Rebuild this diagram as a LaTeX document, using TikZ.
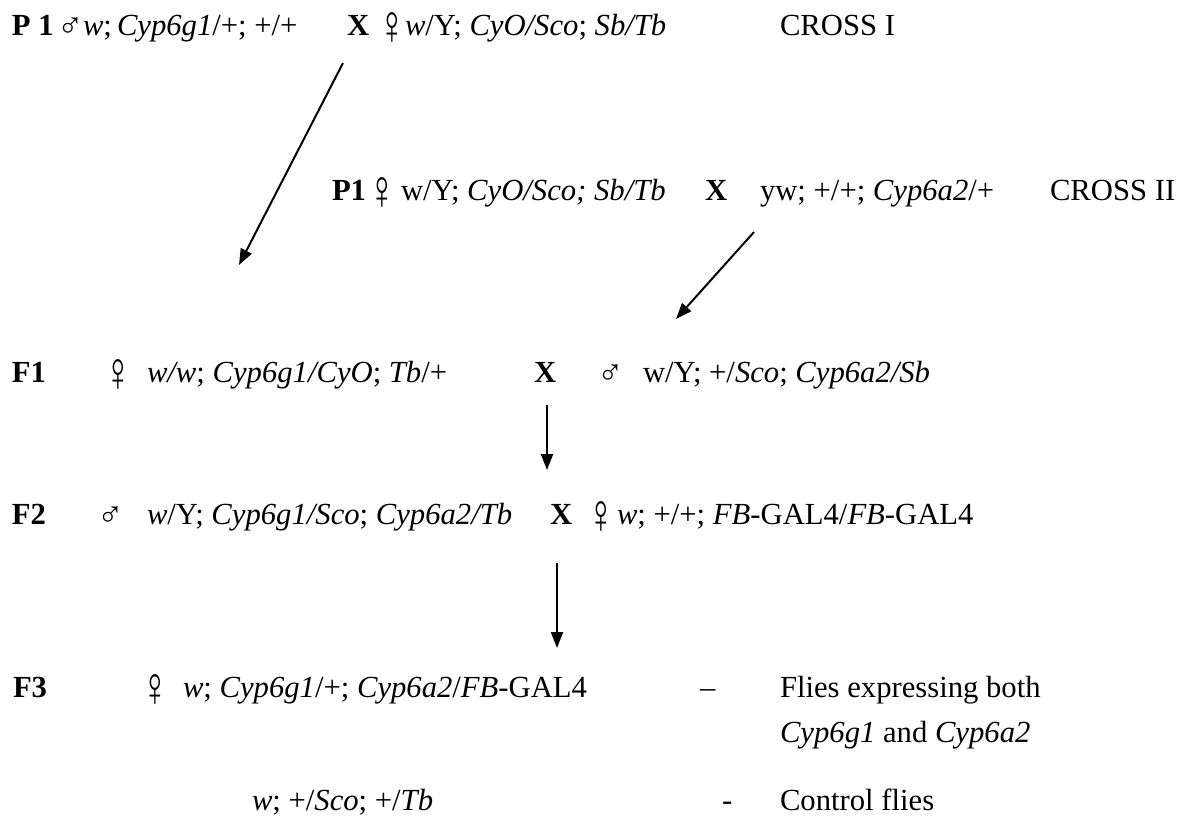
\documentclass[tikz,border=0pt]{standalone}
\usepackage{fontspec}
\setmainfont{Liberation Serif}
\usetikzlibrary{arrows.meta}
\newcommand{\fsz}{\fontsize{23pt}{27pt}\selectfont}
\newcommand{\mal}{\raisebox{-0.08em}{\scalebox{1.15}{♂}}}
\newcommand{\fem}{\raisebox{-0.32em}{\scalebox{1.2}[1.85]{♀}}}
\tikzset{
  txt/.style={anchor=base west, inner sep=0pt, outer sep=0pt, font=\fsz},
  arr/.style={line width=1.5pt, -{Triangle[length=12pt,width=9pt]}}
}
\begin{document}
\begin{tikzpicture}[x=0.75pt,y=-0.75pt]
\useasboundingbox (0,0) rectangle (1194,815);
% line 1
\node[txt] (l1p) at (12,35) {\textbf{P 1}};
\node[txt] (l1m) at (57,35) {\mal};
\node[txt] (l1a) at (83,35) {\textit{w};};
\node[txt] (l1g) at (117,35) {\textit{Cyp6g1}/+; +/+};
\node[txt] (l1x) at (347,35) {\textbf{X}};
\node[txt] (l1f) at (378,35) {\fem};
\node[txt] (l1b) at (405,35) {\textit{w}/Y; \textit{CyO/Sco}; \textit{Sb/Tb}};
\node[txt] (l1c) at (780,35) {CROSS I};
% line 2
\node[txt] (l2p) at (332,200) {\textbf{P1}};
\node[txt] (l2f) at (368,200) {\fem};
\node[txt] (l2a) at (401,200) {w/Y; \textit{CyO/Sco; Sb/Tb}};
\node[txt] (l2x) at (705,200) {\textbf{X}};
\node[txt] (l2b) at (760,200) {yw; +/+; \textit{Cyp6a2}/+};
\node[txt] (l2c) at (1050,200) {CROSS II};
% F1
\node[txt] (f1) at (12,382) {\textbf{F1}};
\node[txt] (f1f) at (104,382) {\fem};
\node[txt] (f1a) at (147,382) {\textit{w/w}; \textit{Cyp6g1/CyO}; \textit{Tb}/+};
\node[txt] (f1x) at (534,382) {\textbf{X}};
\node[txt] (f1m) at (597,382) {\mal};
\node[txt] (f1b) at (643,382) {w/Y; +/\textit{Sco}; \textit{Cyp6a2/Sb}};
% F2
\node[txt] (f2) at (12,524) {\textbf{F2}};
\node[txt] (f2m) at (97,524) {\mal};
\node[txt] (f2a) at (147,524) {\textit{w}/Y; \textit{Cyp6g1/Sco}; \textit{Cyp6a2/Tb}};
\node[txt] (f2x) at (550,524) {\textbf{X}};
\node[txt] (f2f) at (587,524) {\fem};
\node[txt] (f2b) at (617,524) {\textit{w}; +/+; \textit{FB}-GAL4/\textit{FB}-GAL4};
% F3
\node[txt] (f3) at (13,697) {\textbf{F3}};
\node[txt] (f3f) at (141,697) {\fem};
\node[txt] (f3a) at (183,697) {\textit{w}; \textit{Cyp6g1}/+; \textit{Cyp6a2}/\textit{FB}-GAL4};
\node[txt] (f3d) at (700,697) {–};
\node[txt] (f3c) at (780,697) {Flies expressing both};
\node[txt] (f3e) at (780,742) {\textit{Cyp6g1} and \textit{Cyp6a2}};
\node[txt] (f3w) at (252,810) {\textit{w}; +/\textit{Sco}; +/\textit{Tb}};
\node[txt] (f3h) at (722,810) {-};
\node[txt] (f3k) at (780,810) {Control flies};
% arrows
\coordinate (a1s) at (343,63);
\coordinate (a1e) at (239,265);
\coordinate (a2s) at (754,232);
\coordinate (a2e) at (676,319);
\coordinate (a3s) at (547,405);
\coordinate (a3e) at (547,470);
\coordinate (a4s) at (557,563);
\coordinate (a4e) at (557,648);
\draw[arr] (a1s) -- (a1e);
\draw[arr] (a2s) -- (a2e);
\draw[arr] (a3s) -- (a3e);
\draw[arr] (a4s) -- (a4e);
\end{tikzpicture}
\end{document}
